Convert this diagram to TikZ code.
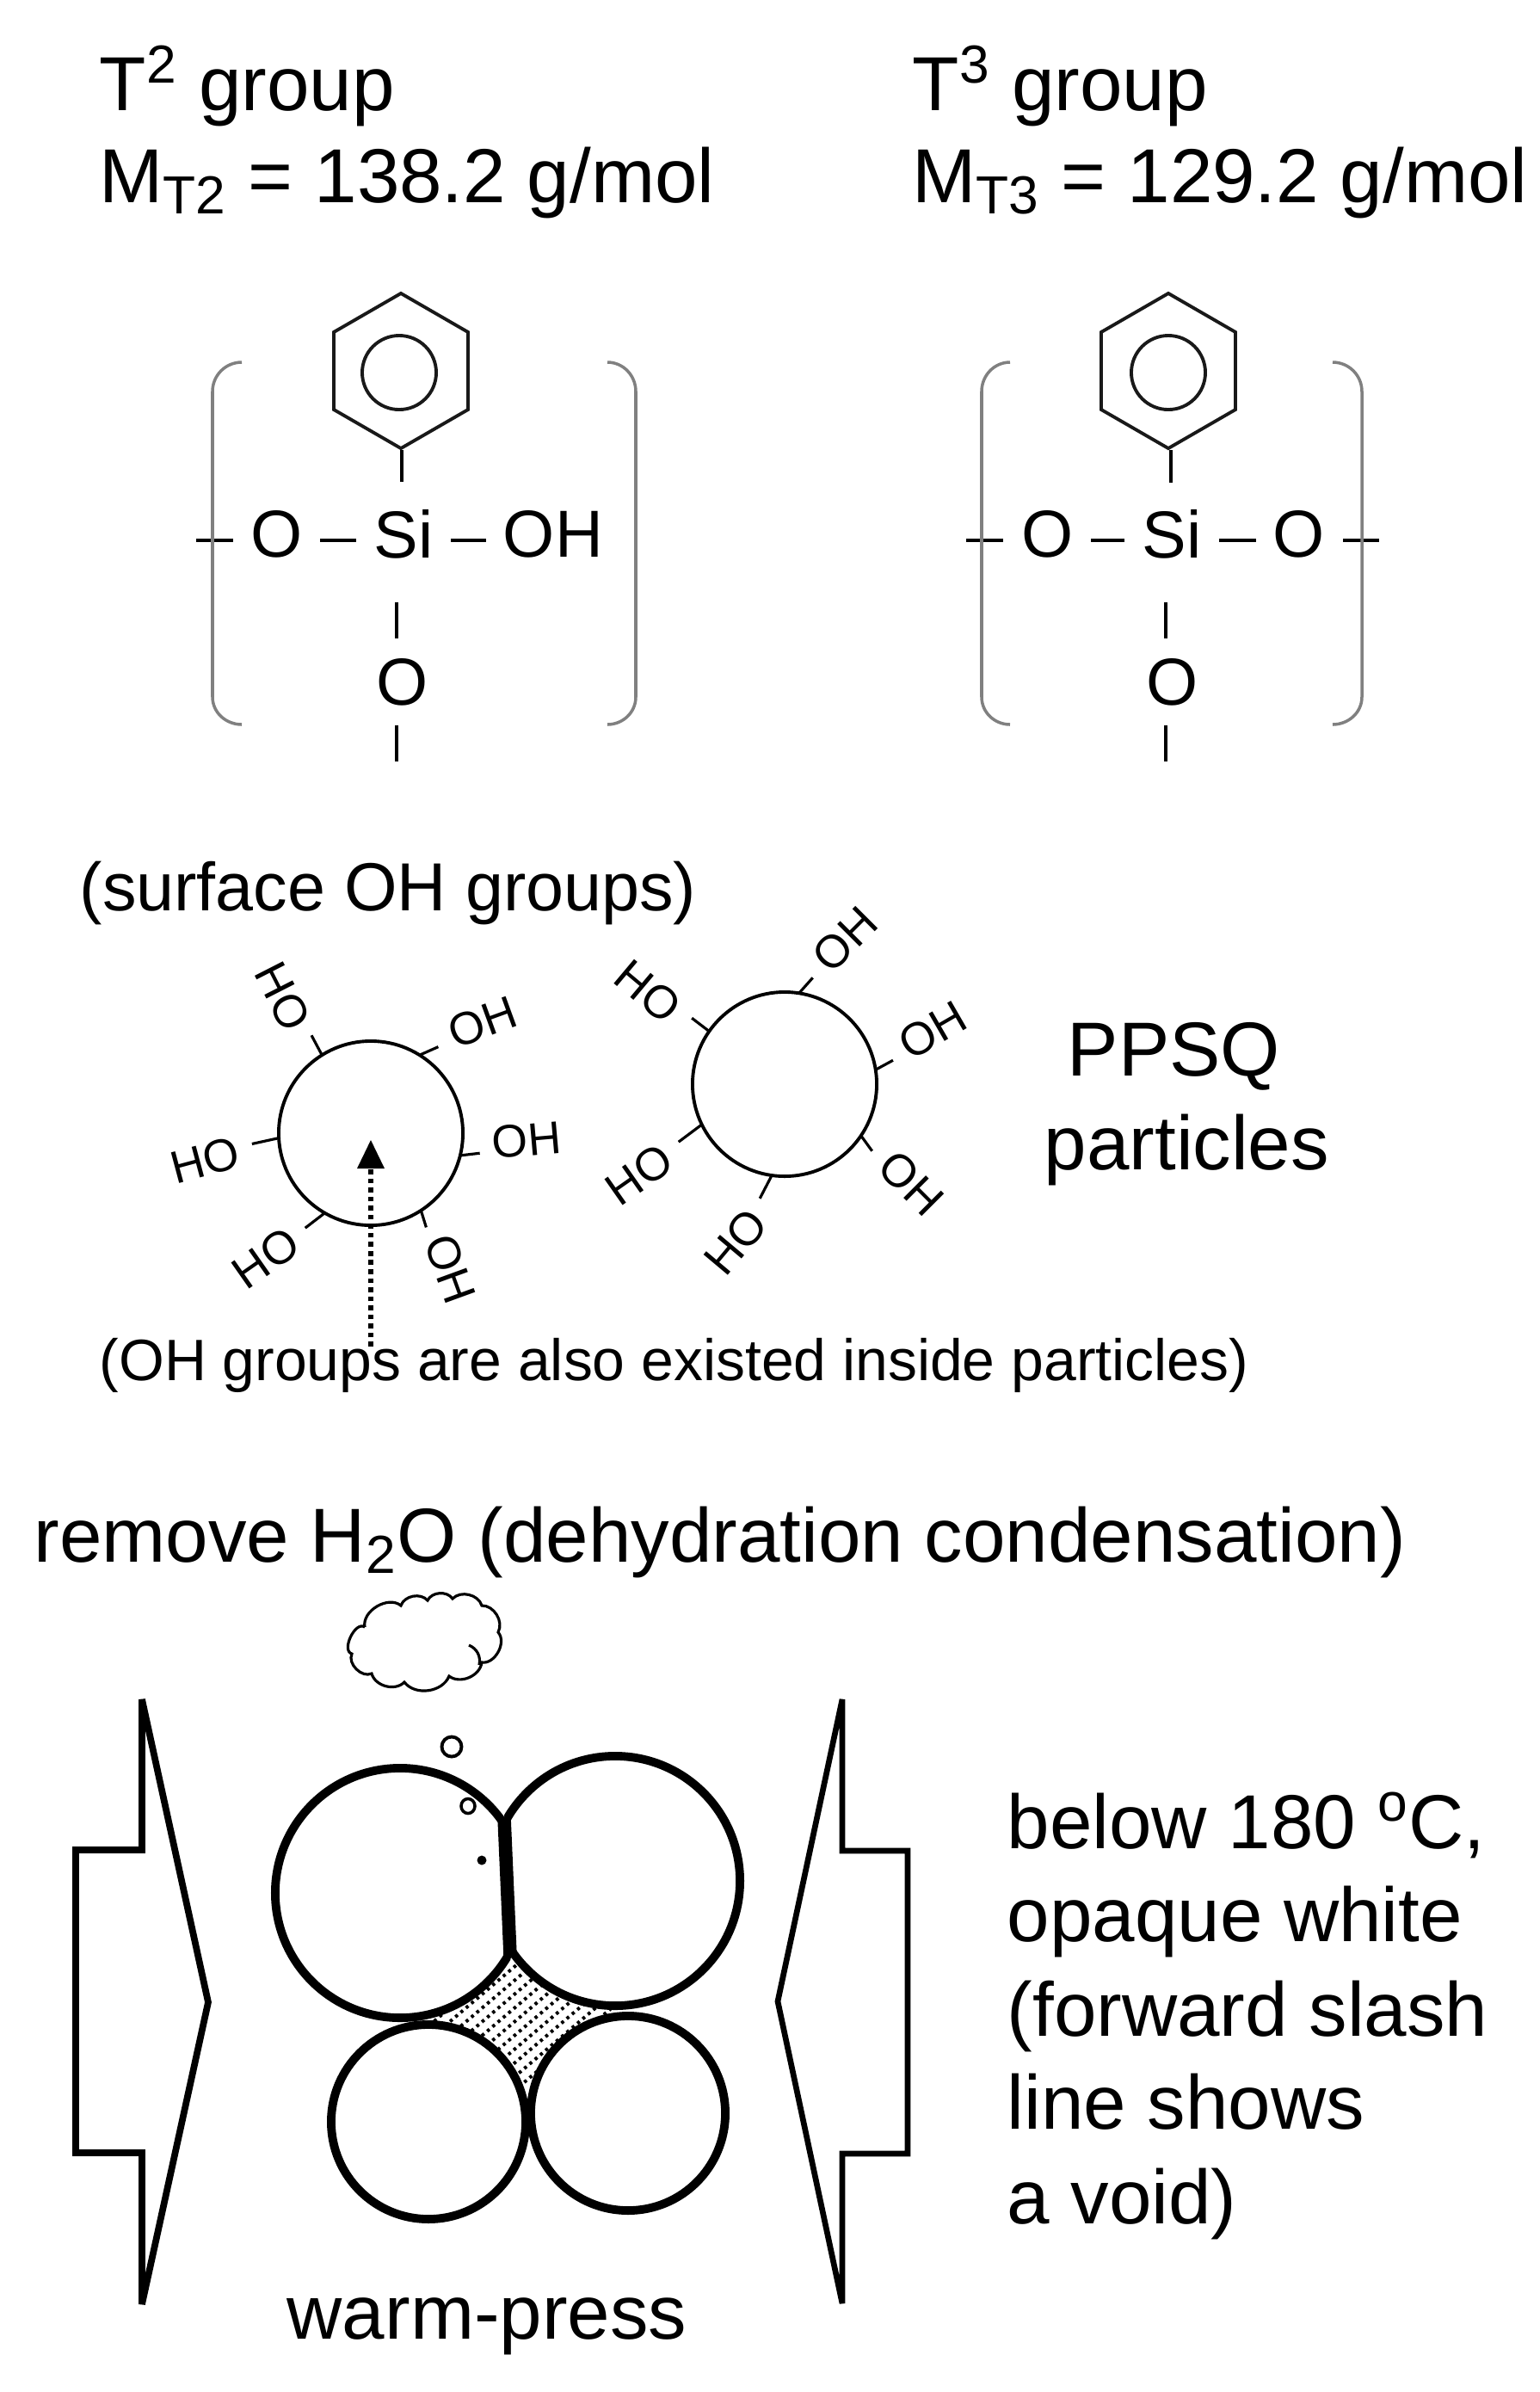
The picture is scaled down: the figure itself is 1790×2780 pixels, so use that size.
\documentclass[tikz,border=0pt]{standalone}
\usepackage{fontspec}
\usepackage{tikz}
\usetikzlibrary{shapes.geometric}
\setmainfont{Liberation Sans}

\tikzset{
	x=0.01cm, y=-0.01cm,
	bigtext/.style={anchor=base west,inner sep=0pt,font=\fontsize{25.3}{30}\selectfont},
	midtext/.style={inner xsep=5.6pt,inner ysep=0pt,font=\fontsize{22}{26}\selectfont},
	smalltext/.style={inner xsep=2.2pt,inner ysep=0pt,font=\fontsize{15.2}{18}\selectfont},
	bond/.style={draw=black,line width=1.3pt},
	tick/.style={draw=black,line width=0.9pt},
	bracket/.style={draw=black!50,line width=1pt},
	benzene/.style={regular polygon,regular polygon sides=6,shape border rotate=30,draw=black!90,line width=1.1pt,minimum size=1.8cm,inner sep=0pt},
	benzring/.style={shape=circle,draw=black!90,line width=1.1pt,minimum size=0.86cm,inner sep=0pt},
	particle/.style={shape=circle,draw=black,line width=1.1pt,minimum size=2.14cm,inner sep=0pt,outer sep=0pt},
	grain/.style={shape=circle,draw=black,fill=white,line width=2.8pt,inner sep=0pt,outer sep=0pt},
	pressarrow/.style={draw=black,line width=2.2pt,line join=miter,miter limit=2},
	voidline/.style={draw=black,line width=1.1pt,dash pattern=on 1pt off 1.3pt},
}

\begin{document}
\begin{tikzpicture}

	\useasboundingbox (0,0) rectangle (1790,2780);

	% headings
	\node[bigtext] (t2) at (115,128) {T\textsuperscript{2} group};
	\node[bigtext] (m2) at (115,235) {M\textsubscript{T2} = 138.2 g/mol};
	\node[bigtext] (t3) at (1060,128) {T\textsuperscript{3} group};
	\node[bigtext] (m3) at (1060,235) {M\textsubscript{T3} = 129.2 g/mol};

	% T2 unit
	\node[benzene] (h2) at (466,431) {};
	\node[benzring] (r2) at (464,433) {};
	\node[midtext] (o2a) at (322,621) {O};
	\node[midtext] (si2) at (469,621) {Si};
	\node[midtext] (oh2) at (643,621) {OH};
	\node[midtext] (o2b) at (468,793) {O};
	\coordinate (w2) at (228,628);
	\coordinate (s2) at (467,560);
	\coordinate (u2) at (461,700);
	\coordinate (v2) at (461,742);
	\coordinate (x2) at (461,843);
	\coordinate (y2) at (461,885);

	\draw[bond] (s2 |- h2.south) -- (s2);
	\draw[bond] (w2) -- (271,628);
	\draw[bond] ([yshift=-2pt]o2a.east) -- ([yshift=-2pt]si2.west);
	\draw[bond] ([yshift=-2pt]si2.east) -- ([yshift=-2pt]oh2.west);
	\draw[bond] (u2) -- (v2);
	\draw[bond] (x2) -- (y2);
	\draw[bracket] (281,421) to[out=180,in=90] (247,455) -- (247,810) to[out=-90,in=180] (281,842);
	\draw[bracket] (706,421) to[out=0,in=90] (739,455) -- (739,810) to[out=-90,in=0] (706,842);

	% T3 unit
	\node[benzene] (h3) at (1358,431) {};
	\node[benzring] (r3) at (1358,433) {};
	\node[midtext] (o3a) at (1218,621) {O};
	\node[midtext] (si3) at (1362,621) {Si};
	\node[midtext] (o3c) at (1510,621) {O};
	\node[midtext] (o3b) at (1363,793) {O};
	\coordinate (w3) at (1123,628);
	\coordinate (z3) at (1603,628);
	\coordinate (s3) at (1361,561);
	\coordinate (u3) at (1355,700);
	\coordinate (v3) at (1355,742);
	\coordinate (x3) at (1355,843);
	\coordinate (y3) at (1355,885);

	\draw[bond] (s3 |- h3.south) -- (s3);
	\draw[bond] (w3) -- (1166,628);
	\draw[bond] ([yshift=-2pt]o3a.east) -- ([yshift=-2pt]si3.west);
	\draw[bond] ([yshift=-2pt]si3.east) -- ([yshift=-2pt]o3c.west);
	\draw[bond] (1561,628) -- (z3);
	\draw[bond] (u3) -- (v3);
	\draw[bond] (x3) -- (y3);
	\draw[bracket] (1174,421) to[out=180,in=90] (1141,455) -- (1141,810) to[out=-90,in=180] (1174,842);
	\draw[bracket] (1549,421) to[out=0,in=90] (1583,455) -- (1583,810) to[out=-90,in=0] (1549,842);

	% particles with OH groups
	\node[bigtext,font=\fontsize{22.5}{27}\selectfont] (sf) at (92,1058) {(surface OH groups)};
	\node[particle] (p1) at (431,1317) {};
	\node[particle] (p2) at (912,1260) {};

	\node[smalltext,rotate=-63] (a1) at (329,1158) {HO};
	\node[smalltext,rotate=20]  (a2) at (561,1188) {OH};
	\node[smalltext,rotate=5]   (a3) at (612,1325) {OH};
	\node[smalltext,rotate=15]  (a4) at (238,1348) {HO};
	\node[smalltext,rotate=35]  (a5) at (309,1462) {HO};
	\node[smalltext,rotate=-70] (a6) at (523,1475) {OH};
	\draw[tick] (p1.122) -- ([shift={(11,2)}]a1.east);
	\draw[tick] (p1.58)  -- ([shift={(-6,12)}]a2.west);
	\draw[tick] (p1.-14) -- ([shift={(-6,11)}]a3.west);
	\draw[tick] (p1.183) -- ([shift={(8,-6)}]a4.east);
	\draw[tick] (p1.-120) -- ([shift={(6,-7)}]a5.east);
	\draw[tick] (p1.-57) -- ([shift={(-11,-3)}]a6.west);

	\node[smalltext,rotate=-40] (b1) at (753,1152) {HO};
	\node[smalltext,rotate=45]  (b2) at (982,1092) {OH};
	\node[smalltext,rotate=30]  (b3) at (1084,1197) {OH};
	\node[smalltext,rotate=-45] (b4) at (1059,1375) {OH};
	\node[smalltext,rotate=50]  (b5) at (855,1443) {HO};
	\node[smalltext,rotate=35]  (b6) at (743,1365) {HO};
	\draw[tick] (p2.145) -- ([shift={(14,0)}]b1.east);
	\draw[tick] (p2.81)  -- ([shift={(-3,10)}]b2.west);
	\draw[tick] (p2.9)   -- ([shift={(-4,11)}]b3.west);
	\draw[tick] (p2.-34) -- ([shift={(-11,-3)}]b4.west);
	\draw[tick] (p2.-98) -- ([shift={(-3,-13)}]b5.east);
	\draw[tick] (p2.-154) -- ([shift={(6,-10)}]b6.east);

	\node[bigtext] (pp) at (1240,1250) {PPSQ};
	\node[bigtext] (pa) at (1213,1359) {particles};
	\node[bigtext,font=\fontsize{19.3}{23}\selectfont] (in) at (115,1604) {(OH groups are also existed inside particles)};
	\coordinate (st) at (431,1565);
	\coordinate (en) at (431,1358);
	\draw[line width=1.6pt,dash pattern=on 1.6pt off 1.4pt] (st) -- (en);
	\draw[fill=black,draw=none] (431,1325) -- (447,1358) -- (415,1358) -- cycle;

	% warm-press
	\node[bigtext] (rm) at (39,1815) {remove H\textsubscript{2}O (dehydration condensation)};
	\draw[line width=0.9pt] (424,1891) to[bend left=70] (466,1866) to[bend left=60] (497,1860) to[bend left=60] (526,1858) to[bend left=60] (560,1866) to[bend left=60] (579,1897) to[bend left=70] (560,1932) to[bend left=60] (522,1948) to[bend left=60] (470,1955) to[bend left=60] (432,1945) to[bend left=70] (409,1922) to[bend left=100] (424,1891);
	\draw[line width=0.9pt] (545,1912) to[bend left=40] (557,1935);

	\draw[voidline] (480,2370) -- (720,2166);
	\draw[voidline] (480,2386) -- (720,2182);
	\draw[voidline] (480,2402) -- (720,2198);
	\draw[voidline] (480,2418) -- (720,2214);
	\draw[voidline] (480,2434) -- (720,2230);
	\draw[voidline] (480,2450) -- (720,2246);
	\draw[voidline] (480,2466) -- (720,2262);
	\draw[voidline] (480,2482) -- (720,2278);
	\draw[voidline] (480,2498) -- (720,2294);
	\draw[voidline] (480,2514) -- (720,2310);
	\draw[voidline] (480,2530) -- (720,2326);

	\begin{scope}
		\clip (250,1990) -- (581,1990) -- (603,2500) -- (250,2500) -- cycle;
		\node[grain,minimum size=2.9cm] (g1) at (465,2200) {};
	\end{scope}
	\begin{scope}
		\clip (581,1990) -- (603,2500) -- (950,2500) -- (950,1990) -- cycle;
		\node[grain,minimum size=2.9cm] (g2) at (715,2186) {};
	\end{scope}
	\node[grain,minimum size=2.26cm] (g3) at (498,2466) {};
	\node[grain,minimum size=2.26cm] (g4) at (730,2456) {};
	\draw[line width=4.4pt] (586,2112) -- (593,2272);

	\node[draw=black,line width=1.1pt,shape=ellipse,minimum width=0.23cm,minimum height=0.23cm,inner sep=0pt] (w1) at (525,2030) {};
	\node[draw=black,line width=1pt,shape=ellipse,minimum width=0.16cm,minimum height=0.17cm,inner sep=0pt] (w4) at (544,2099) {};
	\node[fill=black,shape=circle,minimum size=0.11cm,inner sep=0pt] (w5) at (560,2162) {};

	\draw[pressarrow] (165,1975) -- (165,2150) -- (88,2150) -- (88,2502) -- (165,2502) -- (165,2678) -- (242,2327) -- cycle;
	\draw[pressarrow,line width=1.9pt] (979,1975) -- (979,2151) -- (1055,2151) -- (1055,2503) -- (979,2503) -- (979,2677) -- (904,2326) -- cycle;

	\node[bigtext] (l1) at (1170,2148) {below 180 \textsuperscript{o}C,};
	\node[bigtext] (l2) at (1170,2256) {opaque white};
	\node[bigtext] (l3) at (1170,2366) {(forward slash};
	\node[bigtext] (l4) at (1170,2474) {line shows};
	\node[bigtext] (l5) at (1170,2584) {a void)};
	\node[bigtext] (wp) at (333,2718) {warm-press};

\end{tikzpicture}
\end{document}
